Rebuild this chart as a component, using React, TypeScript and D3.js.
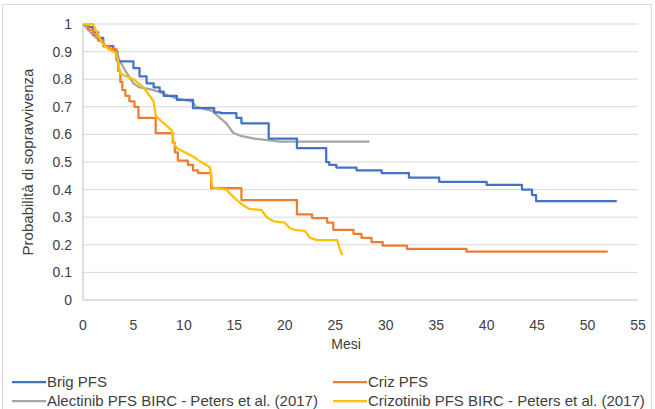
import React from "react";
import * as d3 from "d3";

const xTicks = [0, 5, 10, 15, 20, 25, 30, 35, 40, 45, 50, 55];
const yTicks = [0, 0.1, 0.2, 0.3, 0.4, 0.5, 0.6, 0.7, 0.8, 0.9, 1];

const brigT = [0, 0.5, 1, 1.5, 2, 3, 3.4, 5, 5.6, 6.3, 7, 7.6, 8, 9.3, 10.9, 13, 13.6, 15.2, 15.7, 18.4, 21.2, 24.1, 24.4, 25.1, 27.1, 29.6, 32.3, 35.3, 40, 43.5, 44.5, 44.9, 52.9];
const brigS = [1, 0.99, 0.97, 0.95, 0.92, 0.9, 0.865, 0.84, 0.81, 0.785, 0.77, 0.755, 0.74, 0.725, 0.695, 0.68, 0.677, 0.66, 0.64, 0.585, 0.55, 0.5, 0.49, 0.48, 0.47, 0.46, 0.443, 0.428, 0.417, 0.4, 0.38, 0.358, 0.358];

const crizT = [0, 0.5, 1, 1.5, 2, 2.6, 3.3, 3.5, 3.7, 3.9, 4.2, 4.6, 5.1, 5.5, 7.2, 8.9, 9.1, 9.4, 10.4, 10.9, 11.4, 12.7, 15.7, 21.2, 22.7, 24.2, 24.8, 26.8, 27.6, 28.6, 29.7, 32.1, 38, 52];
const crizS = [1, 0.98, 0.96, 0.94, 0.92, 0.91, 0.87, 0.83, 0.79, 0.76, 0.74, 0.72, 0.7, 0.66, 0.605, 0.57, 0.535, 0.505, 0.49, 0.47, 0.46, 0.405, 0.362, 0.31, 0.297, 0.28, 0.254, 0.24, 0.225, 0.21, 0.197, 0.185, 0.175, 0.175];

const alecT = [0, 1, 2, 2.5, 3.3, 3.6, 4.2, 5.0, 5.6, 6.5, 7.5, 8.5, 9.3, 10.8, 11.2, 12.8, 13.4, 14.2, 14.9, 15.6, 17, 18.5, 19.5, 28.4];
const alecS = [1, 0.96, 0.93, 0.91, 0.9, 0.87, 0.83, 0.785, 0.77, 0.765, 0.755, 0.74, 0.73, 0.72, 0.7, 0.685, 0.665, 0.64, 0.605, 0.595, 0.585, 0.578, 0.574, 0.574];

const crizPetT = [0, 1, 1.5, 2, 2.5, 3.3, 3.5, 3.7, 5, 6, 7, 7.2, 7.4, 8.8, 9, 9.3, 10.9, 11.5, 12.6, 12.8, 13.2, 14.2, 15, 15.8, 16.5, 17.7, 18.2, 18.9, 20, 20.5, 21, 22, 22.5, 23.2, 25.2, 25.4, 25.7];
const crizPetS = [1, 1, 0.96, 0.925, 0.91, 0.895, 0.86, 0.82, 0.8, 0.77, 0.72, 0.67, 0.66, 0.615, 0.57, 0.55, 0.52, 0.505, 0.48, 0.41, 0.405, 0.4, 0.37, 0.345, 0.33, 0.326, 0.3, 0.285, 0.28, 0.26, 0.254, 0.25, 0.225, 0.217, 0.217, 0.19, 0.163];

const seriesNames = [
  "Brig PFS",
  "Criz PFS",
  "Alectinib PFS BIRC - Peters et al. (2017)",
  "Crizotinib PFS BIRC - Peters et al. (2017)",
];
const colors = ["#4472C4", "#ED7D31", "#A5A5A5", "#FFC000"];

export default function App() {
  const W = 655, H = 409;
  const x = d3.scaleLinear().domain([0, 55]).range([83, 638]);
  const y = d3.scaleLinear().domain([0, 1]).range([300, 24]);
  const zip = (t: number[], s: number[]) => t.map((v, i) => [v, s[i]] as [number, number]);
  const stepLine = d3.line<[number, number]>().x(d => x(d[0])).y(d => y(d[1])).curve(d3.curveStepAfter);
  const linLine = d3.line<[number, number]>().x(d => x(d[0])).y(d => y(d[1]));
  const paths = [
    { d: stepLine(zip(brigT, brigS)), c: colors[0] },
    { d: stepLine(zip(crizT, crizS)), c: colors[1] },
    { d: linLine(zip(alecT, alecS)), c: colors[2] },
    { d: linLine(zip(crizPetT, crizPetS)), c: colors[3] },
  ];
  const drawOrder = [2, 0, 1, 3];
  const font = "'Liberation Sans', Arial, sans-serif";
  const legendPos = [
    { lx: 12, ly: 382 },
    { lx: 333, ly: 382 },
    { lx: 12, ly: 401 },
    { lx: 333, ly: 401 },
  ];
  return (
    <svg width={W} height={H} style={{ position: "absolute", left: 0, top: 0 }} fontFamily={font}>
      <rect x={0} y={0} width={W} height={H} fill="#ffffff" />
      <rect x={2.5} y={4.5} width={W - 6} height={H + 10} fill="none" stroke="#d9d9d9" />
      {yTicks.map(t => (
        <line key={"g" + t} x1={x(0)} x2={x(55)} y1={y(t)} y2={y(t)} stroke={t === 0 ? "#bfbfbf" : "#d9d9d9"} strokeWidth={1} />
      ))}
      <line x1={x(0)} x2={x(0)} y1={y(1)} y2={y(0)} stroke="#bfbfbf" />
      {yTicks.map(t => (
        <text key={"yl" + t} x={72} y={y(t)} dy="0.35em" textAnchor="end" fontSize={14} fill="#404040">
          {t === 0 || t === 1 ? String(t) : d3.format(".1f")(t)}
        </text>
      ))}
      {xTicks.map(t => (
        <text key={"xl" + t} x={x(t)} y={325} dy="0.35em" textAnchor="middle" fontSize={14} fill="#404040">
          {t}
        </text>
      ))}
      <text x={346} y={344} dy="0.35em" textAnchor="middle" fontSize={14} fill="#404040">Mesi</text>
      <text transform={`translate(28,${y(0.5)}) rotate(-90)`} dy="0.35em" textAnchor="middle" fontSize={15} fill="#404040">
        Probabilità di sopravvivenza
      </text>
      {drawOrder.map(i => (
        <path key={"p" + i} d={paths[i].d || ""} fill="none" stroke={paths[i].c} strokeWidth={2.25} strokeLinejoin="round" />
      ))}
      {seriesNames.map((n, i) => (
        <g key={"lg" + i}>
          <line x1={legendPos[i].lx} x2={legendPos[i].lx + 34} y1={legendPos[i].ly} y2={legendPos[i].ly} stroke={colors[i]} strokeWidth={2.25} />
          <text x={legendPos[i].lx + 35} y={legendPos[i].ly} dy="0.35em" fontSize={15} fill="#404040">{n}</text>
        </g>
      ))}
    </svg>
  );
}
